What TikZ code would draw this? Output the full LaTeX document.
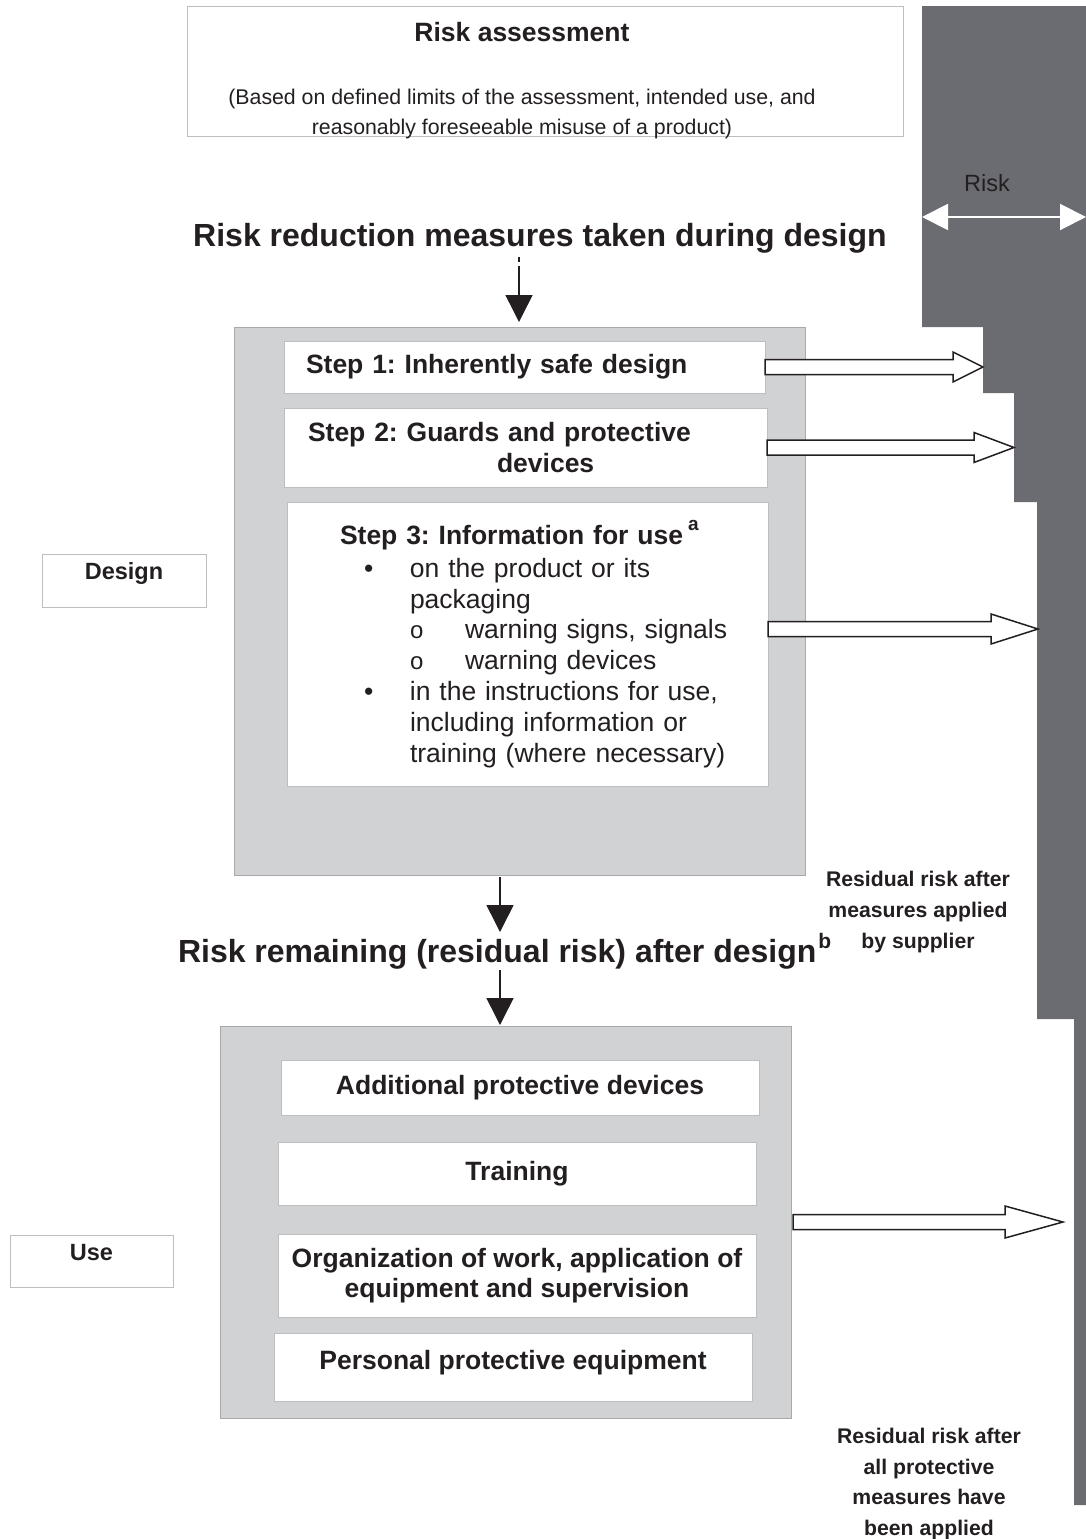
\documentclass[tikz,border=0pt]{standalone}
\usepackage{fontspec}
\setmainfont{Liberation Sans}
\usetikzlibrary{arrows.meta,calc}
\frenchspacing
\definecolor{riskgray}{HTML}{6B6C71}
\definecolor{panelgray}{HTML}{D1D2D4}
\definecolor{panelline}{HTML}{A7A9AC}
\definecolor{boxline}{HTML}{BCBEC0}
\definecolor{ink}{HTML}{231F20}
\newcommand{\hollowarrow}[5]{% start, tip, head length, shaft half, head half
  \draw[blockarr] let \p1=(#1), \p2=(#2) in
    (\x1,{\y1+#4}) -- ({\x2-#3},{\y1+#4}) -- ({\x2-#3},{\y1+#5}) -- (\x2,\y1)
    -- ({\x2-#3},{\y1-#5}) -- ({\x2-#3},{\y1-#4}) -- (\x1,{\y1-#4}) -- cycle;}
\begin{document}
\frenchspacing
\begin{tikzpicture}[x=1pt,y=-1pt,
  every node/.style={text=ink, inner sep=0pt, outer sep=0pt},
  panel/.style={draw=panelline, fill=panelgray, line width=0.8pt, anchor=north west},
  whitebox/.style={draw=boxline, fill=white, line width=0.8pt, anchor=north west},
  boxtext/.style={font=\fontsize{26.5}{30.5}\selectfont\bfseries},
  bodytext/.style={font=\fontsize{26.5}{30.8}\selectfont},
  labeltext/.style={font=\fontsize{23.5}{28}\selectfont\bfseries},
  headtext/.style={font=\fontsize{32}{36}\selectfont\bfseries},
  sidetext/.style={font=\fontsize{21.2}{30.6}\selectfont\bfseries, align=center},
  downarr/.style={draw=ink, line width=1.5pt, -{Triangle[length=27pt,width=27pt]}},
  blockarr/.style={draw=ink, fill=white, line width=1.5pt, line join=miter},
  riskarr/.style={draw=white, line width=2pt, {Triangle[length=26pt,width=26pt]}-{Triangle[length=26pt,width=26pt]}}
]
\useasboundingbox (0,0) rectangle (1086,1539);

% risk staircase
\fill[riskgray] (922,6) -- (1086,6) -- (1086,1505) -- (1074,1505) -- (1074,1019)
  -- (1037,1019) -- (1037,502) -- (1014,502) -- (1014,393) -- (983,393)
  -- (983,327) -- (922,327) -- cycle;
\node[font=\fontsize{23.5}{28}\selectfont, anchor=base, text=ink] (risklabel) at (987,191) {Risk};
\coordinate (rl) at (922,217);
\coordinate (rr) at (1086,217);
\draw[riskarr] (rl) -- (rr);

% risk assessment
\node[whitebox, minimum width=716pt, minimum height=130pt] (ra) at (187,6) {};
\node[font=\fontsize{26.5}{30}\selectfont\bfseries, anchor=base] (ratitle) at (522,41) {Risk assessment};
\node[font=\fontsize{21.3}{30}\selectfont, anchor=base] (rasub1) at (522,104) {(Based on defined limits of the assessment, intended use, and};
\node[font=\fontsize{21.3}{30}\selectfont, anchor=base] (rasub2) at (522,134) {reasonably foreseeable misuse of a product)};

% heading 1
\node[headtext, anchor=base] (head1) at (540,246) {Risk reduction measures taken during design};

% design panel
\node[panel, minimum width=571pt, minimum height=548pt] (design) at (234,327) {};
\node[whitebox, boxtext, minimum width=481pt, minimum height=52pt, text width=437pt, inner xsep=22pt, align=left] (step1) at (284,341) {Step 1: Inherently safe design};
\node[whitebox, boxtext, minimum width=483pt, minimum height=79pt, text width=435pt, inner xsep=24pt, align=left] (step2) at (284,408) {Step 2: Guards and protective\\\hspace*{189pt}devices};
\node[whitebox, bodytext, minimum width=481pt, minimum height=284pt, text width=481pt, align=left] (step3) at (287,502) {%
\hspace*{53pt}\textbf{Step 3: Information for use}\hspace{5pt}\raisebox{14pt}{\fontsize{19}{19}\selectfont\bfseries a}\\[2pt]
\hspace*{77pt}\makebox[46pt][l]{\textbullet}on the product or its\\
\hspace*{123pt}packaging\\
\hspace*{123pt}\makebox[55pt][l]{\fontsize{24}{24}\selectfont o}warning signs, signals\\
\hspace*{123pt}\makebox[55pt][l]{\fontsize{24}{24}\selectfont o}warning devices\\
\hspace*{77pt}\makebox[46pt][l]{\textbullet}in the instructions for use,\\
\hspace*{123pt}including information or\\
\hspace*{123pt}training (where necessary)};

\node[whitebox, labeltext, minimum width=164pt, minimum height=53pt, text height=17pt, text depth=19pt] (designlabel) at (42,554) {Design};

% top arrow
\draw[ink, line width=1.5pt] (519,257) -- (519,262);
\coordinate (d1s) at (519,266);
\draw[downarr, shorten >=5pt] (d1s) -- (design.north -| d1s);

% hollow arrows from steps
\coordinate (t1) at (983,366);
\coordinate (t2) at (1014,447);
\coordinate (t3) at (1038,629);
\coordinate (a3s) at (step3.east |- t3);
\hollowarrow{step1.east}{t1}{30pt}{7.5pt}{15pt}
\hollowarrow{step2.east}{t2}{40pt}{7.5pt}{15pt}
\hollowarrow{a3s}{t3}{47pt}{7.5pt}{15pt}

% remaining heading
\coordinate (d2s) at (500,877);
\coordinate (d2e) at (500,932);
\draw[downarr] (d2s) -- (d2e);
\node[headtext, anchor=base west] (head2) at (178,962) {Risk remaining (residual risk) after design\hspace{2pt}\raisebox{14pt}{\fontsize{21}{21}\selectfont b}};
\coordinate (d3s) at (500,970);

% side text
\node[sidetext] (resid1) at (918,912) {Residual risk after\\measures applied\\by supplier};

% use panel
\node[panel, minimum width=571pt, minimum height=392pt] (usepanel) at (220,1026) {};
\draw[downarr, shorten >=1pt] (d3s) -- (usepanel.north -| d3s);
\node[whitebox, boxtext, minimum width=478pt, minimum height=55pt] (addl) at (281,1060) {Additional protective devices};
\node[whitebox, boxtext, minimum width=478pt, minimum height=63pt] (train) at (278,1142) {Training};
\node[whitebox, boxtext, minimum width=478pt, minimum height=83pt, align=center] (org) at (278,1234) {Organization of work, application of\\equipment and supervision};
\node[whitebox, boxtext, minimum width=478pt, minimum height=68pt, text height=19.3pt, text depth=14.3pt] (ppe) at (274,1333) {Personal protective equipment};

\node[whitebox, labeltext, minimum width=163pt, minimum height=52pt, text height=17pt, text depth=18.2pt] (uselabel) at (10,1235) {Use};

\coordinate (a4s) at ($(usepanel.east)+(2,0)$);
\coordinate (t4) at (1063,1221);
\hollowarrow{a4s}{t4}{58pt}{7.5pt}{16pt}

\node[sidetext] (resid2) at (929,1484) {Residual risk after\\all protective\\measures have\\been applied};
\end{tikzpicture}
\end{document}
